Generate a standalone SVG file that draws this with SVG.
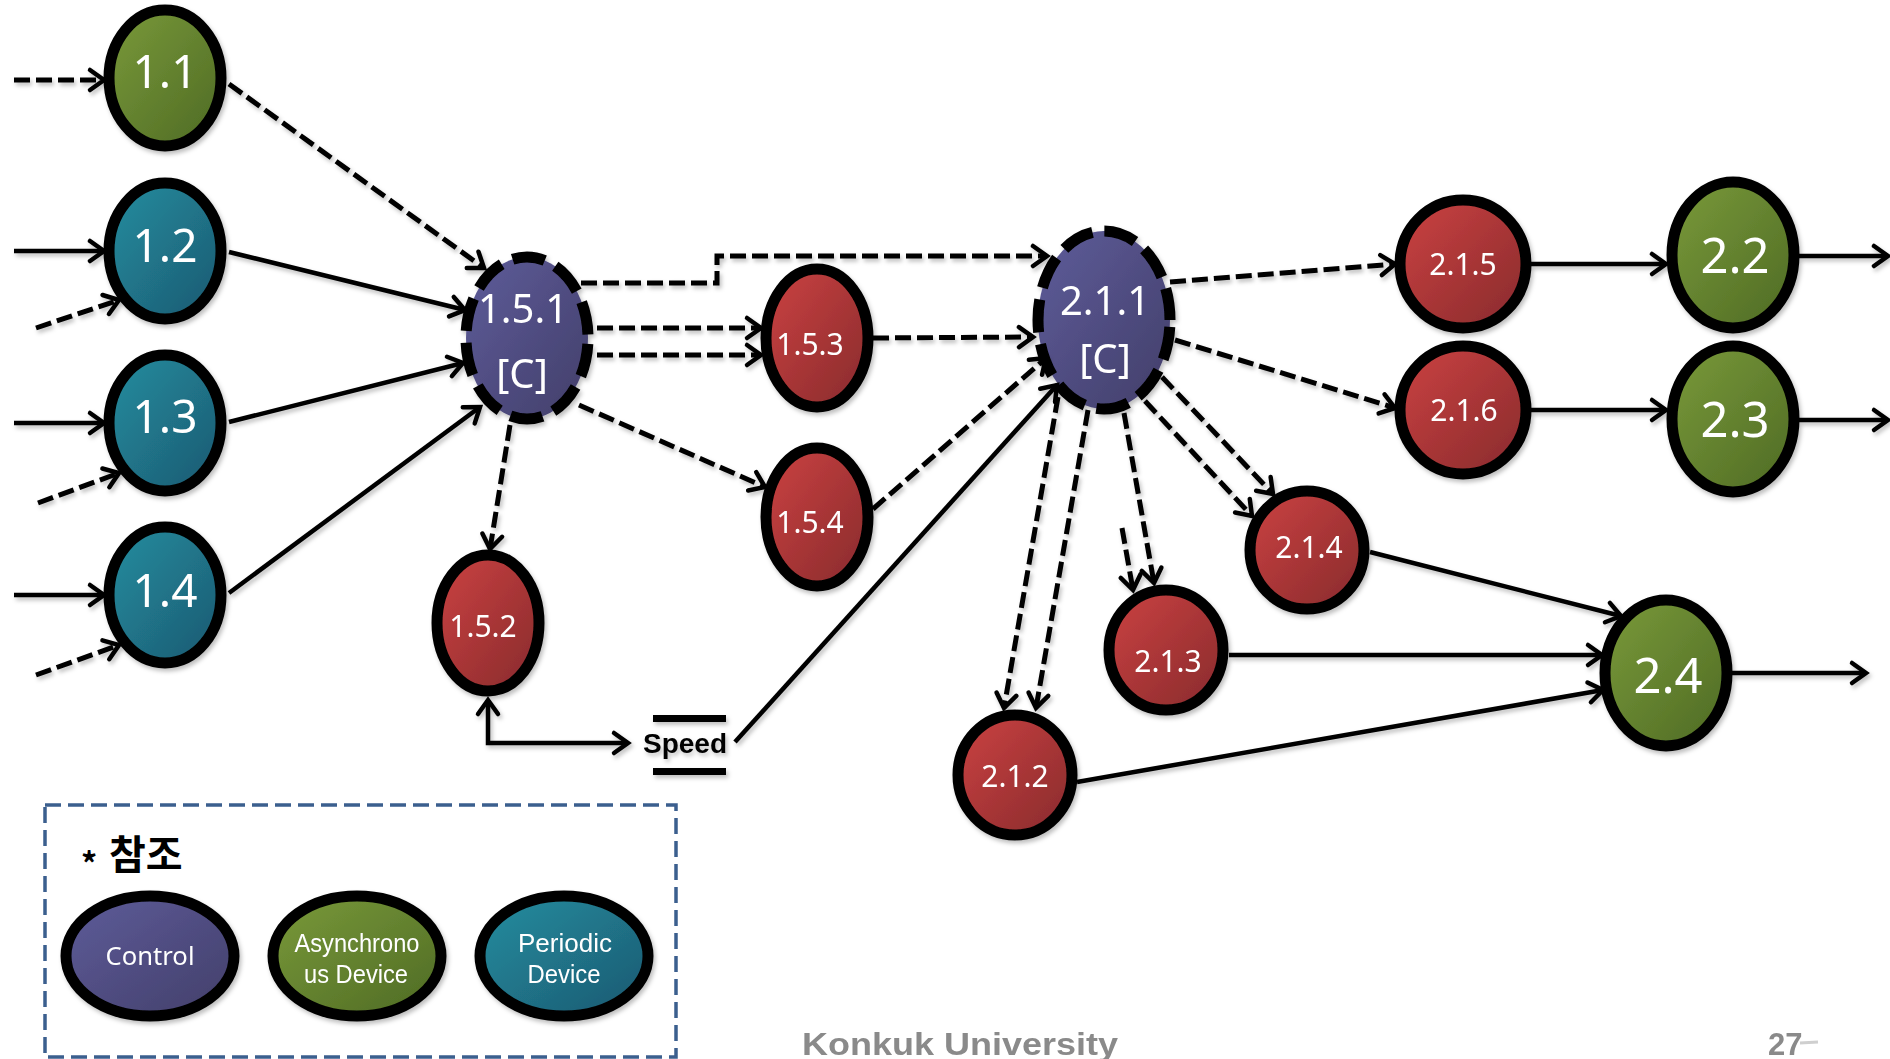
<svg xmlns="http://www.w3.org/2000/svg" width="1890" height="1059" viewBox="0 0 1890 1059">
  <style>
    .node { stroke: #000; stroke-width: 11; }
    .ctrl { stroke: #000; stroke-width: 11; stroke-dasharray: 33 12; }
    .lbl { font-family: "Noto Sans", "Open Sans", sans-serif; fill: #fff; text-anchor: middle; }
    .lbl2 { font-family: "Liberation Sans", Arial, sans-serif; fill: #fff; text-anchor: middle; font-size: 26px; }
    .big { font-size: 46px; }
    .huge { font-size: 49px; }
    .mid { font-size: 40px; }
    .small { font-size: 30px; }
    .leg { font-size: 26px; }
    .ln { fill: none; stroke: #000; stroke-width: 4.5; }
    .dsh { fill: none; stroke: #000; stroke-width: 5; stroke-dasharray: 16 6; }
    .arr { marker-end: url(#tip); }
    .foot { font-family: "Liberation Sans", Arial, sans-serif; font-weight: bold; fill: #8a8a8a; }
  </style>
  <defs>
    <linearGradient id="gRed" x1="0" y1="0" x2="1" y2="1">
      <stop offset="0" stop-color="#cc4242"/>
      <stop offset="1" stop-color="#872a2c"/>
    </linearGradient>
    <linearGradient id="gGreen" x1="0" y1="0" x2="1" y2="1">
      <stop offset="0" stop-color="#7a9a3a"/>
      <stop offset="1" stop-color="#4e6a24"/>
    </linearGradient>
    <linearGradient id="gTeal" x1="0" y1="0" x2="1" y2="1">
      <stop offset="0" stop-color="#248ea0"/>
      <stop offset="1" stop-color="#1c5870"/>
    </linearGradient>
    <linearGradient id="gPurple" x1="0" y1="0" x2="1" y2="1">
      <stop offset="0" stop-color="#5e5c9a"/>
      <stop offset="1" stop-color="#423e69"/>
    </linearGradient>
    <filter id="shadow" x="-10%" y="-10%" width="130%" height="130%">
      <feDropShadow dx="2" dy="3" stdDeviation="2" flood-color="#000" flood-opacity="0.25"/>
    </filter>
    <filter id="soft" x="-5%" y="-20%" width="110%" height="140%">
      <feGaussianBlur stdDeviation="0.7"/>
    </filter>
    <marker id="tip" viewBox="0 0 24 28" markerWidth="24" markerHeight="28" refX="19" refY="14" orient="auto" markerUnits="userSpaceOnUse" overflow="visible">
      <path d="M5,4 L19,14 L5,24" fill="none" stroke="#000" stroke-width="4.5" stroke-linecap="round"/>
    </marker>
    <marker id="tipStart" viewBox="0 0 24 28" markerWidth="24" markerHeight="28" refX="19" refY="14" orient="auto-start-reverse" markerUnits="userSpaceOnUse" overflow="visible">
      <path d="M5,4 L19,14 L5,24" fill="none" stroke="#000" stroke-width="4.5" stroke-linecap="round"/>
    </marker>
  </defs>

  <rect width="1890" height="1059" fill="#fff"/>

  <!-- device and control nodes -->
  <g id="nodes" filter="url(#shadow)">
    <g id="n1_1"><ellipse class="node" cx="165" cy="78" rx="56" ry="68" fill="url(#gGreen)"/><text class="lbl big" x="165" y="88">1.1</text></g>
    <g id="n1_2"><ellipse class="node" cx="165" cy="251" rx="56" ry="68" fill="url(#gTeal)"/><text class="lbl big" x="165" y="262">1.2</text></g>
    <g id="n1_3"><ellipse class="node" cx="165" cy="423" rx="56" ry="68" fill="url(#gTeal)"/><text class="lbl big" x="165" y="433">1.3</text></g>
    <g id="n1_4"><ellipse class="node" cx="165" cy="595" rx="56" ry="68" fill="url(#gTeal)"/><text class="lbl big" x="165" y="607">1.4</text></g>

    <g id="n1_5_1"><ellipse class="ctrl" cx="527" cy="338" rx="61" ry="81" fill="url(#gPurple)" stroke-dashoffset="39"/>
      <text class="lbl mid" x="523" y="323">1.5.1</text><text class="lbl mid" x="522" y="388">[C]</text></g>
    <g id="n1_5_2"><ellipse class="node" cx="488" cy="623" rx="51" ry="68" fill="url(#gRed)"/><text class="lbl small" x="483" y="637">1.5.2</text></g>
    <g id="n1_5_3"><ellipse class="node" cx="817" cy="338" rx="51" ry="69" fill="url(#gRed)"/><text class="lbl small" x="810" y="355">1.5.3</text></g>
    <g id="n1_5_4"><ellipse class="node" cx="817" cy="517" rx="51" ry="69" fill="url(#gRed)"/><text class="lbl small" x="810" y="533">1.5.4</text></g>

    <g id="n2_1_1"><ellipse class="ctrl" cx="1104" cy="320" rx="66" ry="89" fill="url(#gPurple)" stroke-dasharray="32 12" stroke-dashoffset="38"/>
      <text class="lbl mid" x="1105" y="315">2.1.1</text><text class="lbl mid" x="1105" y="373">[C]</text></g>
    <g id="n2_1_2"><ellipse class="node" cx="1015" cy="775" rx="57" ry="60" fill="url(#gRed)"/><text class="lbl small" x="1015" y="787">2.1.2</text></g>
    <g id="n2_1_3"><ellipse class="node" cx="1166" cy="650" rx="57" ry="60" fill="url(#gRed)"/><text class="lbl small" x="1168" y="672">2.1.3</text></g>
    <g id="n2_1_4"><ellipse class="node" cx="1307" cy="550" rx="57" ry="59" fill="url(#gRed)"/><text class="lbl small" x="1309" y="558">2.1.4</text></g>
    <g id="n2_1_5"><ellipse class="node" cx="1463" cy="264" rx="63" ry="64" fill="url(#gRed)"/><text class="lbl small" x="1463" y="275">2.1.5</text></g>
    <g id="n2_1_6"><ellipse class="node" cx="1463" cy="410" rx="63" ry="64" fill="url(#gRed)"/><text class="lbl small" x="1464" y="421">2.1.6</text></g>

    <g id="n2_2"><ellipse class="node" cx="1733" cy="255" rx="61" ry="73" fill="url(#gGreen)"/><text class="lbl huge" x="1735" y="273">2.2</text></g>
    <g id="n2_3"><ellipse class="node" cx="1733" cy="419" rx="61" ry="73" fill="url(#gGreen)"/><text class="lbl huge" x="1735" y="437">2.3</text></g>
    <g id="n2_4"><ellipse class="node" cx="1666" cy="673" rx="61" ry="73" fill="url(#gGreen)"/><text class="lbl huge" x="1668" y="693">2.4</text></g>
  </g>

  <!-- shared speed data store -->
  <g id="speed" filter="url(#shadow)">
    <rect x="653" y="715" width="73" height="7" fill="#000"/>
    <rect x="653" y="768" width="73" height="7" fill="#000"/>
    <text x="685" y="753" text-anchor="middle" font-family="Liberation Sans, Arial, sans-serif" font-weight="bold" font-size="28" fill="#000">Speed</text>
  </g>

  <!-- connectors -->
  <g id="connectors" filter="url(#shadow)">
    <!-- external inputs -->
    <path class="dsh arr" d="M14,80 L104,80"/>
    <path class="ln arr" d="M14,251 L104,251"/>
    <path class="dsh arr" d="M36,328 L119,300"/>
    <path class="ln arr" d="M14,423 L104,423"/>
    <path class="dsh arr" d="M38,503 L119,473"/>
    <path class="ln arr" d="M14,595 L104,595"/>
    <path class="dsh arr" d="M36,675 L119,645"/>
    <!-- into 1.5.1 -->
    <path class="dsh arr" d="M229,84 L484,268"/>
    <path class="ln arr" d="M229,252 L465,310"/>
    <path class="ln arr" d="M229,422 L463,363"/>
    <path class="ln arr" d="M229,593 L480,407"/>
    <!-- out of 1.5.1 -->
    <path class="dsh arr" d="M510,425 L490,549"/>
    <path class="dsh arr" d="M581,283 L717,283 L717,256 L1047,256"/>
    <path class="dsh arr" d="M597,328 L761,328"/>
    <path class="dsh arr" d="M597,355 L761,355"/>
    <path class="dsh arr" d="M579,405 L765,487"/>
    <!-- into 2.1.1 -->
    <path class="dsh arr" d="M873,338 L1033,337"/>
    <path class="dsh arr" d="M873,509 L1046,358"/>
    <path class="ln arr" d="M735,742 L1057,385"/>
    <!-- 1.5.2 to speed store -->
    <path class="ln arr" marker-start="url(#tipStart)" d="M488,700 L488,743 L628,743"/>
    <!-- out of 2.1.1 -->
    <path class="dsh arr" d="M1170,282 L1395,264"/>
    <path class="dsh arr" d="M1175,340 L1395,408"/>
    <path class="dsh arr" d="M1162,377 L1273,494"/>
    <path class="dsh arr" d="M1145,401 L1252,516"/>
    <path class="dsh arr" d="M1124,413 L1154,583"/>
    <path class="dsh arr" d="M1122,528 L1133,590"/>
    <path class="dsh arr" d="M1058,397 L1004,708"/>
    <path class="dsh arr" d="M1088,410 L1036,708"/>
    <!-- to outputs -->
    <path class="ln arr" d="M1531,264 L1666,264"/>
    <path class="ln arr" d="M1531,410 L1666,410"/>
    <path class="ln arr" d="M1799,256 L1888,256"/>
    <path class="ln arr" d="M1799,420 L1888,420"/>
    <path class="ln arr" d="M1370,552 L1621,616"/>
    <path class="ln arr" d="M1229,655 L1602,655"/>
    <path class="ln arr" d="M1077,782 L1603,690"/>
    <path class="ln arr" d="M1732,673 L1866,673"/>
  </g>

  <!-- legend -->
  <g id="legend">
    <rect x="45" y="805" width="631" height="252" fill="none" stroke="#3b5f8e" stroke-width="3.5" stroke-dasharray="16 7"/>
    <text font-family="Noto Sans CJK KR, sans-serif" font-weight="bold" fill="#000">
      <tspan x="81" y="876" font-size="32">*</tspan><tspan x="109" y="869" font-size="40">참조</tspan>
    </text>
    <g id="leg_control" filter="url(#shadow)">
      <ellipse class="node" cx="150" cy="956" rx="84" ry="60" fill="url(#gPurple)"/>
      <text class="lbl leg" x="150" y="965" textLength="89" lengthAdjust="spacingAndGlyphs">Control</text>
    </g>
    <g id="leg_async" filter="url(#shadow)">
      <ellipse class="node" cx="357" cy="956" rx="84" ry="60" fill="url(#gGreen)"/>
      <text class="lbl2" x="357" y="952" textLength="125" lengthAdjust="spacingAndGlyphs">Asynchrono</text>
      <text class="lbl2" x="356" y="983" textLength="104" lengthAdjust="spacingAndGlyphs">us Device</text>
    </g>
    <g id="leg_periodic" filter="url(#shadow)">
      <ellipse class="node" cx="564" cy="956" rx="84" ry="60" fill="url(#gTeal)"/>
      <text class="lbl2" x="565" y="952" textLength="94" lengthAdjust="spacingAndGlyphs">Periodic</text>
      <text class="lbl2" x="564" y="983" textLength="73" lengthAdjust="spacingAndGlyphs">Device</text>
    </g>
  </g>

  <!-- footer -->
  <g id="footer" filter="url(#soft)">
    <text class="foot" x="802" y="1055" font-size="31" textLength="316" lengthAdjust="spacingAndGlyphs">Konkuk University</text>
    <text class="foot" x="1768" y="1055" font-size="31">27</text>
    <line x1="1800" y1="1043" x2="1818" y2="1042" stroke="#cfcfcf" stroke-width="3"/>
  </g>
</svg>
